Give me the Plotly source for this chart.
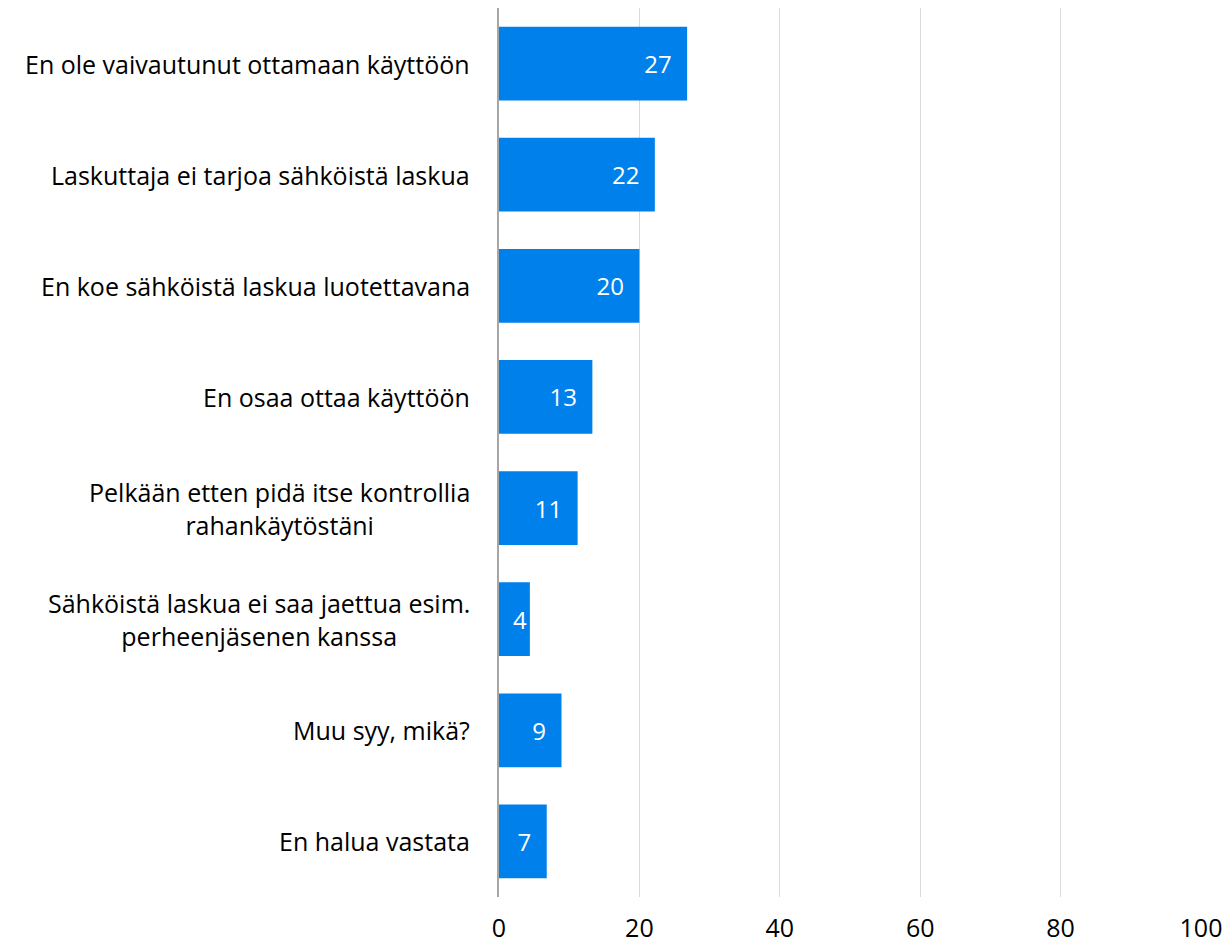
import plotly.graph_objects as go

categories = [
    'En ole vaivautunut ottamaan käyttöön',
    'Laskuttaja ei tarjoa sähköistä laskua',
    'En koe sähköistä laskua luotettavana',
    'En osaa ottaa käyttöön',
    'Pelkään etten pidä itse kontrollia<br>rahankäytöstäni',
    'Sähköistä laskua ei saa jaettua esim.<br>perheenjäsenen kanssa',
    'Muu syy, mikä?',
    'En halua vastata',
]
values = [26.8, 22.2, 20.0, 13.3, 11.2, 4.4, 8.9, 6.8]
tick_vals = [0, 20, 40, 60, 80, 100]

font_family = '"Open Sans", Lato, sans-serif'

# Excel keeps a gap after the label, except when the bar is too narrow
labels = [f'{v:.0f}' + ('\u00a0\u00a0' if v >= 5 else '') for v in values]

fig = go.Figure()
fig.add_trace(
    go.Bar(
        y=categories,
        x=values,
        orientation='h',
        marker=dict(color='#0080EA', line=dict(width=0)),
        text=labels,
        textposition='inside',
        insidetextanchor='end',
        textfont=dict(color='white', size=24, family=font_family),
        cliponaxis=False,
        hoverinfo='skip',
    )
)

# category labels as centred multi-line annotations (like the Excel original)
for cat in categories:
    fig.add_annotation(
        x=0, xref='paper', xanchor='right', xshift=-27,
        y=cat, yref='y',
        text=cat, align='center', showarrow=False,
        font=dict(family=font_family, size=25, color='black'),
    )

# the page body has an 8px margin, so the figure is sized and offset for it
fig.update_layout(
    width=1224,
    height=939,
    margin=dict(l=491, r=31, t=0, b=50),
    plot_bgcolor='white',
    paper_bgcolor='white',
    bargap=0.336,
    showlegend=False,
    uniformtext=dict(minsize=24, mode='show'),
    font=dict(family=font_family, size=24, color='black'),
)

fig.update_xaxes(
    range=[0, 100],
    tickvals=tick_vals,
    showgrid=True,
    gridcolor='#D9D9D9',
    gridwidth=1,
    zeroline=False,
    showline=False,
    automargin=False,
    ticklabeloverflow='allow',
    ticks='outside',
    ticklen=9,
    tickcolor='rgba(0,0,0,0)',
    tickfont=dict(size=25, color='black'),
)
fig.update_yaxes(
    autorange='reversed',
    automargin=False,
    showline=True,
    linecolor='#A6A6A6',
    linewidth=2,
    ticks='',
    showticklabels=False,
)

fig.write_html('out.html')
